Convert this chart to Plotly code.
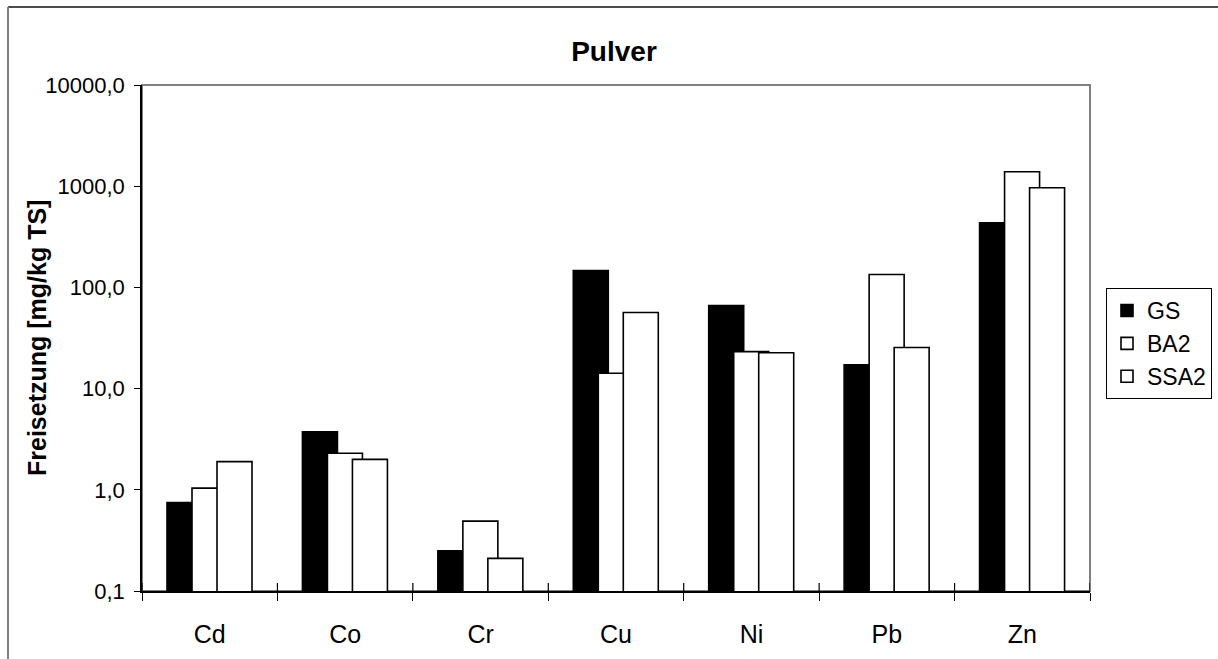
import plotly.graph_objects as go

categories = ["Cd", "Co", "Cr", "Cu", "Ni", "Pb", "Zn"]
gs = [0.75, 3.75, 0.25, 147, 66, 17.2, 434]
ba2 = [1.04, 2.3, 0.49, 14.2, 23.2, 134, 1390]
ssa2 = [1.9, 2.0, 0.21, 56.5, 22.6, 25.5, 964]
series_names = ["GS", "BA2", "SSA2"]
ytick_vals = [0.1, 1, 10, 100, 1000, 10000]
ytick_text = ["0,1", "1,0", "10,0", "100,0", "1000,0", "10000,0"]

W, H = 1218, 659
L, R, T, B = 142, 1090, 85, 591
pw, ph = R - L, B - T

def px(x):
    return (x - L) / pw

def py(y):
    return (B - y) / ph

FONT = "Liberation Sans, Arial, sans-serif"
bar_w = 35 / (pw / 7)
step = 25 / (pw / 7)
first = -0.5 + 25 / (pw / 7)

fig = go.Figure()
fills = ["black", "white", "white"]
for i, (name, vals) in enumerate(zip(series_names, [gs, ba2, ssa2])):
    fig.add_trace(go.Bar(
        x=categories, y=vals, name=name,
        width=[bar_w] * len(categories),
        offset=[first + i * step] * len(categories),
        marker=dict(color=fills[i], line=dict(color="black", width=1.6)),
    ))

shapes = [
    dict(type="rect", xref="paper", yref="paper", x0=0, x1=1, y0=0, y1=1,
         line=dict(color="#808080", width=2), layer="below"),
    dict(type="line", xref="paper", yref="paper", x0=px(8), x1=px(1218), y0=py(7), y1=py(7),
         line=dict(color="#111111", width=1.5)),
    dict(type="line", xref="paper", yref="paper", x0=px(8), x1=px(8), y0=py(7), y1=py(659),
         line=dict(color="#808080", width=2)),
]
for k in range(len(categories) + 1):
    shapes.append(dict(type="line", xref="x", yref="paper", x0=k - 0.5, x1=k - 0.5,
                       y0=0, y1=8 / ph, line=dict(color="black", width=1.2)))

fig.update_layout(
    width=W, height=H,
    margin=dict(l=L, r=W - R, t=T, b=H - B, pad=0, autoexpand=False),
    paper_bgcolor="white", plot_bgcolor="white",
    barmode="overlay",
    font=dict(family=FONT, color="black", size=22),
    title=dict(text="<b>Pulver</b>", x=px(614), xref="paper", xanchor="center",
               y=1 - 51 / H, yanchor="middle", font=dict(size=28, family=FONT, color="black")),
    showlegend=True,
    legend=dict(x=px(1106), y=py(288), xanchor="left", yanchor="top",
                bordercolor="black", borderwidth=1, bgcolor="white",
                font=dict(size=23, family=FONT), tracegroupgap=8,
                itemwidth=30),
    xaxis=dict(type="category", range=[-0.5, 6.5], showline=True, linecolor="black", linewidth=1.5,
               ticks="outside", ticklen=8, tickwidth=1.2, tickcolor="black", tickson="boundaries",
               showgrid=False, zeroline=False, ticklabelstandoff=20,
               tickfont=dict(size=25, family=FONT)),
    yaxis=dict(type="log", range=[-1, 4], showline=True, linecolor="black", linewidth=1.5,
               tickvals=ytick_vals, ticktext=ytick_text,
               ticks="outside", ticklen=6, tickwidth=1.2, tickcolor="black",
               showgrid=False, zeroline=False, ticklabelstandoff=5,
               tickfont=dict(size=22, family=FONT)),
    shapes=shapes,
    annotations=[dict(text="<b>Freisetzung [mg/kg TS]</b>", xref="paper", yref="paper",
                      x=px(37), y=0.5, xanchor="center", yanchor="middle", textangle=-90,
                      showarrow=False, font=dict(size=25, family=FONT, color="black"))],
)

fig.write_html("out.html")
